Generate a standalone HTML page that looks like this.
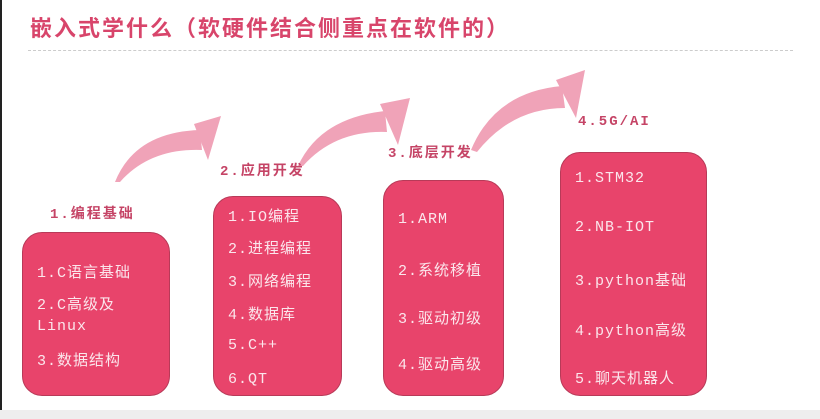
<!DOCTYPE html>
<html><head><meta charset="utf-8"><style>
body{margin:0;width:820px;height:419px;background:#fff;overflow:hidden;position:relative;font-family:"Liberation Sans","Noto Sans CJK SC",sans-serif}
.t{position:absolute;left:30px;top:11px;font-size:22px;font-weight:bold;color:#d8456b;letter-spacing:2px}
.hr{position:absolute;left:28px;top:50px;width:765px;border-top:1px dashed #ccc}
.lb{position:absolute;font-size:14px;font-weight:bold;color:#c54466;letter-spacing:2px;font-family:"Liberation Mono","Noto Sans CJK SC",monospace}
.box{position:absolute;background:#e8446b;border:1px solid #b83a58;border-radius:20px;color:#fbe6ec;font-size:15px;letter-spacing:1px;font-family:"Liberation Mono","Noto Sans CJK SC",monospace}
.box div{position:absolute;left:14px;white-space:nowrap}
.bl{position:absolute;left:0;top:0;width:2px;height:419px;background:#222}
.bot{position:absolute;left:0;top:410px;width:820px;height:9px;background:#eee}
</style></head><body>
<div class="bl"></div>
<div class="t">嵌入式学什么（软硬件结合侧重点在软件的）</div>
<div class="hr"></div>
<svg width="820" height="419" style="position:absolute;left:0;top:0">
<g fill="#f0a3b8">
<path d="M115,182 Q135,132 200,130 L202,150 Q150,148 120,182 Z"/>
<path d="M194,124 L221,116 L208,160 Z"/>
<path d="M298,166 Q320,118 385,111 L387,132 Q335,130 303,166 Z"/>
<path d="M380,104 L410,98 L398,145 Z"/>
<path d="M471,150 Q495,92 562,86 L565,108 Q512,108 477,152 Z"/>
<path d="M556,80 L585,70 L576,118 Z"/>
</g></svg>
<div class="lb" style="left:50px;top:203px">1.编程基础</div>
<div class="lb" style="left:220px;top:160px">2.应用开发</div>
<div class="lb" style="left:388px;top:142px">3.底层开发</div>
<div class="lb" style="left:578px;top:114px">4.5G/AI</div>
<div class="box" style="left:22px;top:232px;width:146px;height:162px">
<div style="top:28px">1.C语言基础</div><div style="top:60px">2.C高级及</div><div style="top:85px">Linux</div><div style="top:116px">3.数据结构</div></div>
<div class="box" style="left:213px;top:196px;width:127px;height:198px">
<div style="top:8px">1.IO编程</div><div style="top:40px">2.进程编程</div><div style="top:73px">3.网络编程</div><div style="top:106px">4.数据库</div><div style="top:140px">5.C++</div><div style="top:174px">6.QT</div></div>
<div class="box" style="left:383px;top:180px;width:119px;height:214px">
<div style="top:30px">1.ARM</div><div style="top:78px">2.系统移植</div><div style="top:126px">3.驱动初级</div><div style="top:172px">4.驱动高级</div></div>
<div class="box" style="left:560px;top:152px;width:145px;height:242px">
<div style="top:17px">1.STM32</div><div style="top:66px">2.NB-IOT</div><div style="top:116px">3.python基础</div><div style="top:166px">4.python高级</div><div style="top:214px">5.聊天机器人</div></div>
<div class="bot"></div>
</body></html>
